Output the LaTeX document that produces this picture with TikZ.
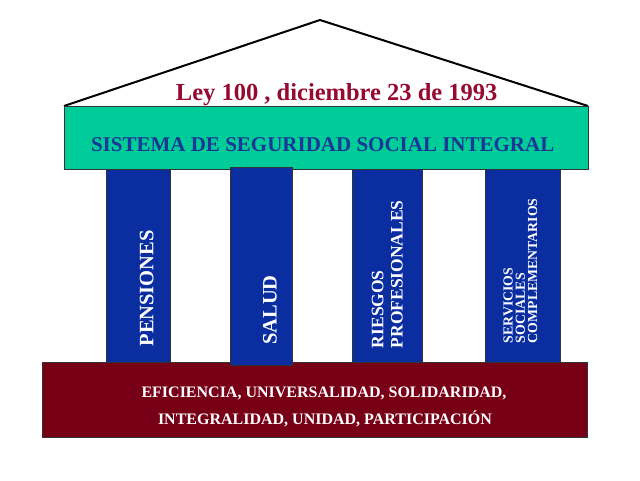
\documentclass[tikz,border=0pt]{standalone}
\usepackage{fontspec}
\setmainfont{Liberation Serif}
\definecolor{roofgreen}{RGB}{0,204,153}
\definecolor{colblue}{RGB}{10,45,160}
\definecolor{basered}{RGB}{120,0,22}
\definecolor{titlered}{RGB}{150,10,50}
\definecolor{sysblue}{RGB}{25,55,150}
\newcommand{\fs}[1]{\fontsize{#1}{#1}\selectfont\bfseries}
\tikzset{
  pillar/.style={fill=colblue, draw=black!80, line width=0.8pt},
  coltext/.style={text=white, rotate=90, inner sep=0pt},
}
\begin{document}
\begin{tikzpicture}[x=1pt,y=-1pt]
\useasboundingbox[fill=white] (0,0) rectangle (640,480);
% roof
\coordinate (rl) at (64,106);
\coordinate (apex) at (320,20);
\coordinate (rr) at (588,106);
\draw[line width=2pt, line join=miter] (rl) -- (apex) -- (rr);
% architrave
\filldraw[fill=roofgreen, draw=black!80, line width=0.8pt] (64,106) rectangle (588,169.5);
% base
\filldraw[fill=basered, draw=black!80, line width=0.8pt] (42.3,362.7) rectangle (587,437.3);
% pillars
\filldraw[pillar] (106.7,169.5) rectangle (170.5,362);
\filldraw[pillar] (230,167.3) rectangle (292.7,365);
\filldraw[pillar] (352,169.5) rectangle (422,362);
\filldraw[pillar] (485,169.5) rectangle (560,362);
% texts
\node[anchor=base, inner sep=0pt, text=titlered] (title) at (336.7,100.7) {\fs{24.5}Ley 100 , diciembre 23 de 1993};
\node[anchor=base, inner sep=0pt, text=sysblue] (sys) at (322.7,151) {\fs{21}SISTEMA DE SEGURIDAD SOCIAL INTEGRAL};
\node[anchor=base, coltext] (pens) at (153.3,288.3) {\fs{20.5}PENSIONES};
\node[anchor=base, coltext] (salud) at (276.7,310) {\fs{20.5}SALUD};
\node[anchor=base west, coltext] (ries1) at (383.3,348.3) {\fs{17.5}RIESGOS};
\node[anchor=base west, coltext] (ries2) at (402.7,348.3) {\fs{17.5}PROFESIONALES};
\node[anchor=base west, coltext] (serv1) at (512.5,343.3) {\fs{13.8}SERVICIOS};
\node[anchor=base west, coltext] (serv2) at (524.8,343.3) {\fs{13.8}SOCIALES};
\node[anchor=base west, coltext] (serv3) at (537.2,343.3) {\fs{13.8}COMPLEMENTARIOS};
\node[anchor=base, inner sep=0pt, text=white] (base1) at (324,397.3) {\fs{16}EFICIENCIA, UNIVERSALIDAD, SOLIDARIDAD,};
\node[anchor=base, inner sep=0pt, text=white] (base2) at (325,424) {\fs{16}INTEGRALIDAD, UNIDAD, PARTICIPACIÓN};
\end{tikzpicture}
\end{document}
